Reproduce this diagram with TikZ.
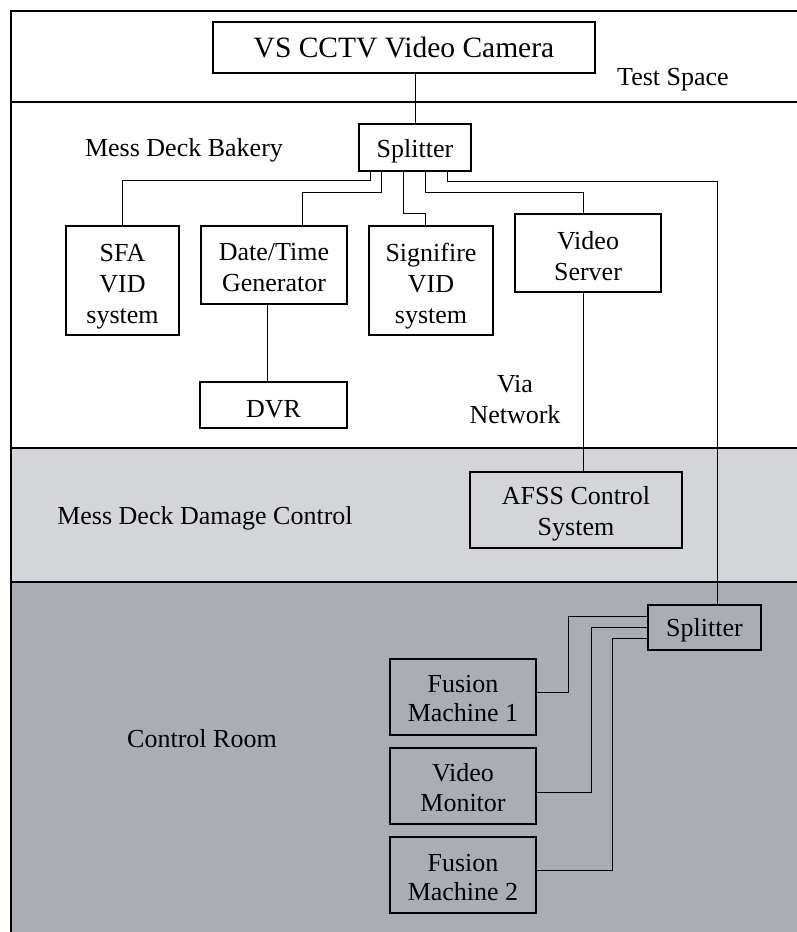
\documentclass[tikz,border=0pt]{standalone}
\usepackage{fontspec}
\setmainfont{Liberation Serif}
\definecolor{midband}{RGB}{212,213,217}
\definecolor{lowband}{RGB}{171,173,181}
\begin{document}
\begin{tikzpicture}[x=1pt,y=-1pt,
  box/.style={draw,line width=1.1pt,inner sep=0pt},
  conn/.style={draw,line width=0.9pt},
  lbl/.style={inner sep=0pt,align=center,font=\fontsize{26}{31}\selectfont},
  frameline/.style={draw,line width=1.1pt}]
\useasboundingbox (0,0) rectangle (797,932);
% bands
\fill[midband] (11,448) rectangle (797,582);
\fill[lowband] (11,582) rectangle (797,932);
\draw[frameline] (11,932) -- (11,11) -- (797,11);
\draw[frameline] (11,102) -- (797,102);
\draw[frameline] (11,448) -- (797,448);
\draw[frameline] (11,582) -- (797,582);
% region labels
\node[lbl] (ts) at (673,80) {Test Space};
\node[lbl] (mdb) at (184,150) {Mess Deck Bakery};
\node[lbl] (via) at (515,400) {Via\\Network};
\node[lbl] (mddc) at (205,518) {Mess Deck Damage Control};
\node[lbl] (cr) at (202,739) {Control Room};
% boxes
\node[box,minimum width=382pt,minimum height=51pt] (cam) at (404,47.5) {};
\node[box,minimum width=112pt,minimum height=47pt] (spl1) at (415,147.5) {};
\node[box,minimum width=113pt,minimum height=109pt] (sfa) at (122.5,280.5) {};
\node[box,minimum width=146pt,minimum height=78pt] (dt) at (274,265) {};
\node[box,minimum width=124pt,minimum height=109pt] (sig) at (431,280.5) {};
\node[box,minimum width=146pt,minimum height=78pt] (vs) at (588,253) {};
\node[box,minimum width=147pt,minimum height=46pt] (dvr) at (273.5,405) {};
\node[box,minimum width=212pt,minimum height=76pt] (afss) at (576,510) {};
\node[box,minimum width=113pt,minimum height=45pt] (spl2) at (704.5,627.5) {};
\node[box,minimum width=146pt,minimum height=76pt] (fm1) at (463,697) {};
\node[box,minimum width=146pt,minimum height=76pt] (vm) at (463,786) {};
\node[box,minimum width=146pt,minimum height=76pt] (fm2) at (463,875) {};
% box texts
\node[lbl,font=\fontsize{29.5}{35}\selectfont] (camt) at (cam.center) {VS CCTV Video Camera};
\node[lbl] (spl1t) at ([yshift=-4pt]spl1.center) {Splitter};
\node[lbl] (sfat) at ([yshift=-6pt]sfa.center) {SFA\\VID\\system};
\node[lbl] (dtt) at ([yshift=-3pt]dt.center) {Date/Time\\Generator};
\node[lbl] (sigt) at ([yshift=-6pt]sig.center) {Signifire\\VID\\system};
\node[lbl] (vst) at ([yshift=-3pt]vs.center) {Video\\Server};
\node[lbl] (dvrt) at ([yshift=-4pt]dvr.center) {DVR};
\node[lbl] (afsst) at ([yshift=-3.5pt]afss.center) {AFSS Control\\System};
\node[lbl] (spl2t) at ([yshift=-3pt]spl2.center) {Splitter};
\node[lbl,font=\fontsize{26}{29}\selectfont] (fm1t) at ([yshift=-2pt]fm1.center) {Fusion\\Machine 1};
\node[lbl,font=\fontsize{26}{30}\selectfont] (vmt) at ([yshift=-2pt]vm.center) {Video\\Monitor};
\node[lbl,font=\fontsize{26}{29}\selectfont] (fm2t) at ([yshift=-3pt]fm2.center) {Fusion\\Machine 2};
% connectors
\draw[conn] (spl1.north) -- (cam.south -| spl1.north);
\draw[conn] ([xshift=12pt]spl1.south west) -- ++(0,9) -| (sfa.north);
\draw[conn] ([xshift=23pt]spl1.south west) -- ++(0,21) -| ([xshift=28pt]dt.north);
\draw[conn] ([xshift=45pt]spl1.south west) -- ++(0,42) -| ([xshift=-6pt]sig.north);
\draw[conn] ([xshift=67pt]spl1.south west) -- ++(0,21) -| ([xshift=-5pt]vs.north);
\draw[conn] ([xshift=89pt]spl1.south west) -- ++(0,10) -| ([xshift=12.5pt]spl2.north);
\draw[conn] ([xshift=-5pt]vs.south) -- ([xshift=-5pt]vs.south |- afss.north);
\draw[conn] ([xshift=-7pt]dt.south) -- ([xshift=-7pt]dt.south |- dvr.north);
\draw[conn] ([yshift=11.5pt]spl2.west) -- ++(-79,0) |- ([yshift=5pt]fm1.east);
\draw[conn] ([yshift=0.5pt]spl2.west) -- ++(-56,0) |- ([yshift=-6pt]vm.east);
\draw[conn] ([yshift=-10.5pt]spl2.west) -- ++(-35,0) |- ([yshift=5pt]fm2.east);
\end{tikzpicture}
\end{document}
